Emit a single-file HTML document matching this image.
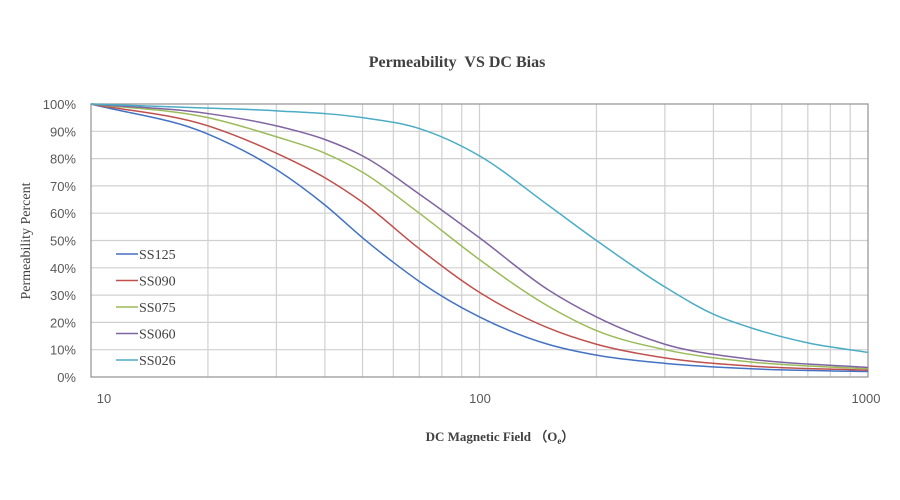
<!DOCTYPE html>
<html><head><meta charset="utf-8"><style>
body{margin:0;background:#fff;}
svg{display:block}
</style></head><body>
<svg id="s" width="900" height="500" xmlns="http://www.w3.org/2000/svg">
<rect width="900" height="500" fill="#fff"/>
<text x="457" y="67" text-anchor="middle" font-family="Liberation Serif,serif" font-weight="bold" font-size="16" fill="#404040" xml:space="preserve">Permeability  VS DC Bias</text>
<g id="grid"></g>
<g id="curves"></g>
<g font-family="Liberation Sans,sans-serif" font-size="13" fill="#595959" id="ylab"></g>
<text x="104" y="403" text-anchor="middle" font-family="Liberation Sans,sans-serif" font-size="13" fill="#595959">10</text>
<text x="480" y="403" text-anchor="middle" font-family="Liberation Sans,sans-serif" font-size="13" fill="#595959">100</text>
<text x="866" y="403" text-anchor="middle" font-family="Liberation Sans,sans-serif" font-size="13" fill="#595959">1000</text>
<text transform="translate(30,241) rotate(-90)" text-anchor="middle" font-family="Liberation Serif,serif" font-size="14" fill="#404040">Permeability Percent</text>
<text x="500" y="441" text-anchor="middle" font-family="Liberation Serif,serif" font-weight="bold" font-size="13" fill="#404040">DC Magnetic Field  （O<tspan font-size="9" dy="3">e</tspan><tspan dy="-3">）</tspan></text>
<g id="leg" font-family="Liberation Serif,serif" font-size="14" fill="#404040"></g>
</svg>
<script>
var L=91,R=868,T=104,B=377,ns="http://www.w3.org/2000/svg";
function X(h){return L+(Math.log10(h)-1)/2*(R-L);}
function Y(p){return B-p/100*(B-T);}
function el(t,a,par){var e=document.createElementNS(ns,t);for(var k in a)e.setAttribute(k,a[k]);document.getElementById(par).appendChild(e);return e;}
for(var i=1;i<10;i++){el("line",{x1:L,x2:R,y1:Y(i*10),y2:Y(i*10),stroke:"#d0d0d0","stroke-width":1.2},"grid");}
[20,30,40,50,60,70,80,90,100,200,300,400,500,600,700,800,900].forEach(function(h){el("line",{x1:X(h),x2:X(h),y1:T,y2:B,stroke:"#d0d0d0","stroke-width":1.2},"grid");});
el("rect",{x:L,y:T,width:R-L,height:B-T,fill:"none",stroke:"#9a9a9a","stroke-width":1.3},"grid");
for(var i=0;i<=10;i++){var t=el("text",{x:76,y:Y(i*10)+5,"text-anchor":"end"},"ylab");t.textContent=i*10+"%";}
var S=[
["SS125","#4472c4",[[10,100],[20,89],[30,76],[40,63],[50,51],[60,42],[70,35],[100,22],[150,12],[200,8],[300,5],[500,3],[1000,2]]],
["SS090","#c0504d",[[10,100],[20,92],[30,82],[40,73],[50,64],[70,47],[100,31],[150,18],[200,12],[300,7],[500,4],[1000,2.5]]],
["SS075","#9bbb59",[[10,100],[20,95],[30,88],[40,82],[50,75],[70,60],[100,43],[150,26],[200,17],[300,10],[500,5.5],[1000,3]]],
["SS060","#8064a2",[[10,100],[20,96.5],[30,92],[40,87],[50,81],[70,67],[100,51],[150,32],[200,22],[300,12],[500,6.5],[1000,3.5]]],
["SS026","#4bacc6",[[10,100],[20,98.5],[30,97.5],[50,95],[70,91],[100,81],[150,63],[200,50],[300,33],[400,23],[500,18],[700,12.5],[1000,9]]]];
S.forEach(function(s,k){
 var p=s[2].map(function(q){return [X(q[0]),Y(q[1])];});
 var n=p.length,sec=[],m=[];
 for(var i=0;i<n-1;i++)sec.push((p[i+1][1]-p[i][1])/(p[i+1][0]-p[i][0]));
 for(var i=0;i<n;i++){
  if(i==0)m.push(sec[0]);else if(i==n-1)m.push(sec[n-2]);
  else{var h0=p[i][0]-p[i-1][0],h1=p[i+1][0]-p[i][0];m.push((sec[i-1]*h1+sec[i]*h0)/(h0+h1));}
 }
 var d="M"+p[0][0]+","+p[0][1];
 for(var i=0;i<n-1;i++){var h=(p[i+1][0]-p[i][0])/3;
  d+=" C"+(p[i][0]+h)+","+(p[i][1]+m[i]*h)+" "+(p[i+1][0]-h)+","+(p[i+1][1]-m[i+1]*h)+" "+p[i+1][0]+","+p[i+1][1];}
 el("path",{d:d,fill:"none",stroke:s[1],"stroke-width":1.5},"curves");
 var y=254+k*26.5;
 el("line",{x1:116,x2:138,y1:y,y2:y,stroke:s[1],"stroke-width":1.6},"leg");
 var t=el("text",{x:139,y:y+5},"leg");t.textContent=s[0];
});
</script>
</body></html>
